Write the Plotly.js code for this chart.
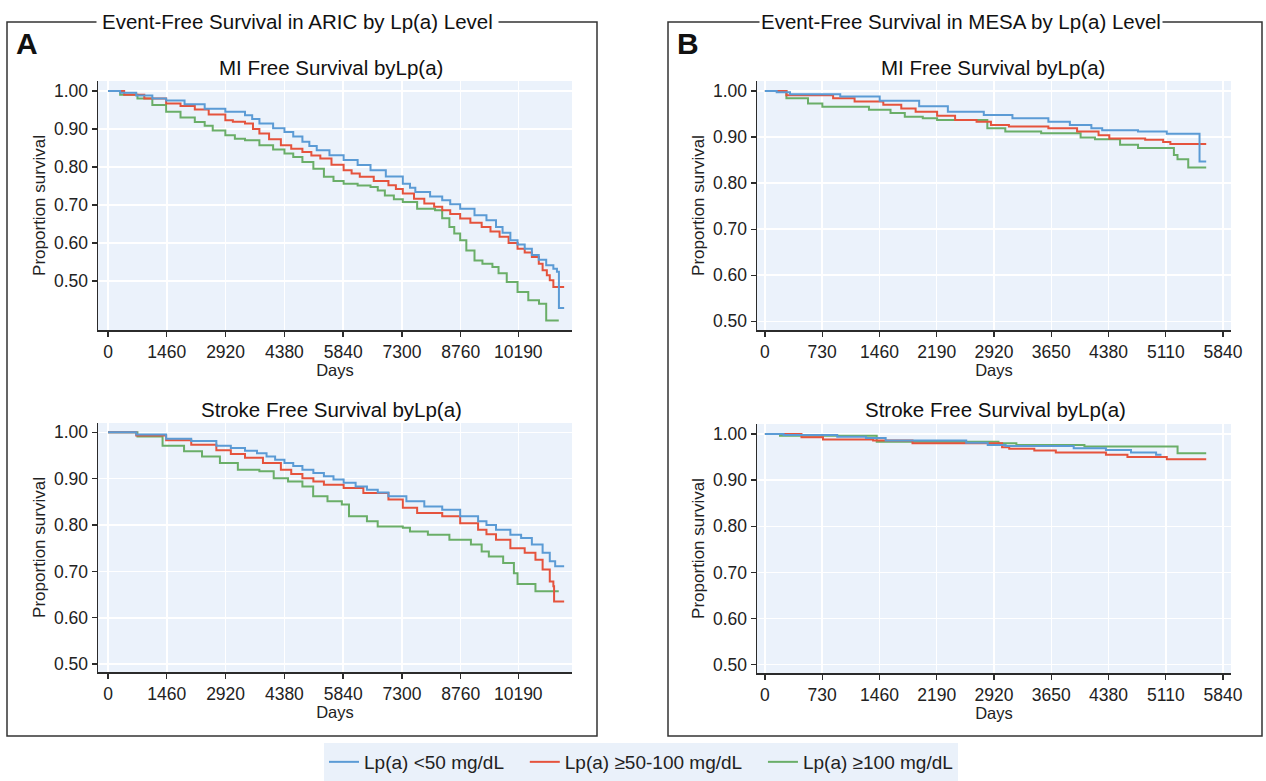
<!DOCTYPE html>
<html>
<head>
<meta charset="utf-8">
<script src="https://cdn.plot.ly/plotly-3.0.1.min.js"></script>
<style>html,body{margin:0;padding:0;background:#fff;}#chart{width:1266px;height:781px;}</style>
</head>
<body>
<div id="chart"></div>
<script>
// ---------- Data ----------
const SERIES_NAMES = ['Lp(a) &lt;50 mg/dL', 'Lp(a) ≥50-100 mg/dL', 'Lp(a) ≥100 mg/dL'];
const SERIES_COLORS = ['#5B9BD5', '#E5533D', '#6AAE68'];

const ARIC_TICKS = [0, 1460, 2920, 4380, 5840, 7300, 8760, 10190];
const MESA_TICKS = [0, 730, 1460, 2190, 2920, 3650, 4380, 5110, 5840];
const Y_TICKS = [0.5, 0.6, 0.7, 0.8, 0.9, 1.0];

// ARIC - MI free survival
const ARIC_MI_LOW_DAYS = [0, 300, 700, 1100, 1443, 1900, 2400, 2913, 3402, 3580, 3760, 4100, 4382, 4600, 4828, 5000, 5184, 5500, 5852, 6200, 6520, 6900, 7322, 7500, 7633, 8000, 8301, 8500, 8747, 9103, 9400, 9637, 9800, 9994, 10172, 10350, 10528, 10700, 10884, 11062, 11151, 11200, 11330];
const ARIC_MI_LOW_SURV = [1.000, 0.995, 0.988, 0.980, 0.975, 0.965, 0.953, 0.945, 0.936, 0.926, 0.914, 0.902, 0.892, 0.880, 0.866, 0.855, 0.844, 0.831, 0.818, 0.805, 0.791, 0.775, 0.756, 0.745, 0.734, 0.722, 0.712, 0.702, 0.690, 0.673, 0.660, 0.642, 0.627, 0.607, 0.596, 0.585, 0.568, 0.556, 0.541, 0.532, 0.524, 0.429, 0.429];
const ARIC_MI_MID_DAYS = [0, 400, 900, 1443, 1800, 2155, 2500, 2913, 3100, 3402, 3600, 3759, 4000, 4293, 4550, 4828, 5050, 5273, 5550, 5852, 6050, 6253, 6600, 6965, 7150, 7322, 7600, 7856, 8100, 8301, 8500, 8747, 9000, 9281, 9500, 9726, 9950, 10172, 10350, 10528, 10700, 10795, 10900, 10973, 11062, 11330];
const ARIC_MI_MID_SURV = [1.000, 0.990, 0.980, 0.967, 0.960, 0.951, 0.938, 0.923, 0.919, 0.914, 0.900, 0.888, 0.873, 0.857, 0.848, 0.839, 0.830, 0.822, 0.806, 0.791, 0.783, 0.774, 0.763, 0.752, 0.742, 0.730, 0.716, 0.704, 0.695, 0.686, 0.676, 0.664, 0.653, 0.642, 0.630, 0.616, 0.600, 0.585, 0.575, 0.563, 0.545, 0.528, 0.515, 0.502, 0.484, 0.484];
const ARIC_MI_HIGH_DAYS = [0, 300, 730, 1100, 1443, 1800, 2155, 2400, 2600, 2913, 3150, 3402, 3759, 4100, 4382, 4600, 4828, 5100, 5362, 5600, 5852, 6200, 6520, 6700, 6876, 7100, 7322, 7678, 8123, 8300, 8479, 8600, 8747, 8900, 9103, 9300, 9548, 9700, 9904, 10172, 10439, 10706, 10884, 11196];
const ARIC_MI_HIGH_SURV = [1.000, 0.990, 0.980, 0.963, 0.945, 0.930, 0.918, 0.908, 0.896, 0.883, 0.874, 0.870, 0.857, 0.846, 0.835, 0.826, 0.813, 0.795, 0.774, 0.763, 0.756, 0.751, 0.747, 0.738, 0.725, 0.715, 0.708, 0.690, 0.686, 0.665, 0.642, 0.625, 0.607, 0.580, 0.554, 0.545, 0.537, 0.520, 0.497, 0.471, 0.449, 0.440, 0.396, 0.396];

// MESA - MI free survival
const MESA_MI_LOW_DAYS = [0, 150, 320, 960, 1463, 1966, 2332, 2790, 3155, 3613, 3887, 4161, 4299, 4756, 5122, 5540, 5625];
const MESA_MI_LOW_SURV = [1.000, 0.997, 0.993, 0.988, 0.979, 0.967, 0.955, 0.948, 0.941, 0.933, 0.926, 0.919, 0.915, 0.912, 0.907, 0.847, 0.847];
const MESA_MI_MID_DAYS = [0, 274, 869, 1143, 1509, 1738, 1921, 2195, 2424, 2698, 2881, 3110, 3613, 3979, 4253, 4390, 4847, 5076, 5168, 5625];
const MESA_MI_MID_SURV = [1.000, 0.991, 0.984, 0.977, 0.970, 0.962, 0.955, 0.946, 0.937, 0.933, 0.926, 0.923, 0.919, 0.912, 0.904, 0.897, 0.894, 0.889, 0.885, 0.885];
const MESA_MI_HIGH_DAYS = [0, 274, 549, 732, 1326, 1601, 1783, 2012, 2195, 2835, 3064, 3521, 4024, 4207, 4527, 4756, 5213, 5259, 5396, 5625];
const MESA_MI_HIGH_SURV = [1.000, 0.984, 0.973, 0.966, 0.959, 0.952, 0.944, 0.941, 0.937, 0.919, 0.912, 0.908, 0.899, 0.895, 0.883, 0.876, 0.861, 0.852, 0.834, 0.834];

// ARIC - Stroke free survival
const ARIC_ST_LOW_DAYS = [0, 700, 1443, 2066, 2690, 3050, 3402, 3700, 3937, 4150, 4382, 4600, 4828, 5100, 5362, 5600, 5852, 6150, 6431, 6700, 6965, 7411, 7856, 8301, 8747, 9192, 9400, 9637, 9994, 10261, 10528, 10795, 10973, 11107, 11330];
const ARIC_ST_LOW_SURV = [1.000, 0.995, 0.986, 0.981, 0.971, 0.966, 0.960, 0.955, 0.948, 0.941, 0.934, 0.927, 0.919, 0.912, 0.905, 0.898, 0.891, 0.883, 0.876, 0.870, 0.862, 0.851, 0.840, 0.833, 0.819, 0.808, 0.800, 0.790, 0.779, 0.772, 0.758, 0.740, 0.722, 0.711, 0.711];
const ARIC_ST_MID_DAYS = [0, 700, 1443, 2066, 2690, 3050, 3402, 3848, 4293, 4550, 4828, 5100, 5362, 5852, 6342, 6965, 7322, 7678, 8301, 8747, 9192, 9400, 9637, 9994, 10350, 10617, 10795, 10973, 11062, 11080, 11330];
const ARIC_ST_MID_SURV = [1.000, 0.993, 0.983, 0.973, 0.961, 0.953, 0.945, 0.934, 0.919, 0.910, 0.901, 0.894, 0.887, 0.880, 0.869, 0.855, 0.837, 0.826, 0.819, 0.804, 0.790, 0.780, 0.768, 0.750, 0.740, 0.725, 0.704, 0.678, 0.668, 0.635, 0.635];
const ARIC_ST_HIGH_DAYS = [0, 730, 1354, 1888, 2334, 2779, 3224, 3759, 4115, 4471, 4828, 5095, 5451, 5807, 5985, 6431, 6698, 7322, 7500, 7945, 8479, 9014, 9281, 9459, 9815, 10082, 10172, 10617, 11196];
const ARIC_ST_HIGH_SURV = [1.000, 0.991, 0.971, 0.959, 0.948, 0.934, 0.919, 0.916, 0.901, 0.894, 0.883, 0.862, 0.851, 0.844, 0.819, 0.808, 0.797, 0.794, 0.786, 0.779, 0.768, 0.758, 0.743, 0.732, 0.718, 0.696, 0.673, 0.657, 0.657];

// MESA - Stroke free survival
const MESA_ST_LOW_DAYS = [0, 237, 922, 1288, 1539, 2566, 2840, 3068, 3936, 4347, 4666, 4986, 5055];
const MESA_ST_LOW_SURV = [1.000, 0.998, 0.994, 0.991, 0.986, 0.981, 0.976, 0.974, 0.969, 0.965, 0.960, 0.955, 0.955];
const MESA_ST_MID_DAYS = [0, 466, 740, 1379, 1881, 3023, 3114, 3434, 3708, 4347, 4621, 5123, 5625];
const MESA_ST_MID_SURV = [1.000, 0.993, 0.988, 0.986, 0.980, 0.971, 0.968, 0.964, 0.960, 0.955, 0.950, 0.945, 0.945];
const MESA_ST_HIGH_DAYS = [0, 192, 1425, 2977, 3205, 4073, 5260, 5625];
const MESA_ST_HIGH_SURV = [1.000, 0.996, 0.983, 0.980, 0.976, 0.973, 0.958, 0.958];

// ---------- Build ----------
const W = 1266, H = 781;
const px = v => v / W;
const py = v => 1 - v / H;
const FONT = "'Liberation Sans', Arial, sans-serif";
const NBSP = '\u00A0\u00A0\u00A0';

const panels = [
  {xa: 'x',  ya: 'y',  sets: [[ARIC_MI_LOW_DAYS, ARIC_MI_LOW_SURV], [ARIC_MI_MID_DAYS, ARIC_MI_MID_SURV], [ARIC_MI_HIGH_DAYS, ARIC_MI_HIGH_SURV]]},
  {xa: 'x2', ya: 'y2', sets: [[MESA_MI_LOW_DAYS, MESA_MI_LOW_SURV], [MESA_MI_MID_DAYS, MESA_MI_MID_SURV], [MESA_MI_HIGH_DAYS, MESA_MI_HIGH_SURV]]},
  {xa: 'x3', ya: 'y3', sets: [[ARIC_ST_LOW_DAYS, ARIC_ST_LOW_SURV], [ARIC_ST_MID_DAYS, ARIC_ST_MID_SURV], [ARIC_ST_HIGH_DAYS, ARIC_ST_HIGH_SURV]]},
  {xa: 'x4', ya: 'y4', sets: [[MESA_ST_LOW_DAYS, MESA_ST_LOW_SURV], [MESA_ST_MID_DAYS, MESA_ST_MID_SURV], [MESA_ST_HIGH_DAYS, MESA_ST_HIGH_SURV]]}
];

const traces = [];
panels.forEach((p, pi) => {
  [2, 1, 0].forEach(si => {
    traces.push({
      type: 'scatter', mode: 'lines',
      x: p.sets[si][0], y: p.sets[si][1],
      xaxis: p.xa, yaxis: p.ya,
      line: {shape: 'hv', color: SERIES_COLORS[si], width: 2},
      name: SERIES_NAMES[si] + (si < 2 ? NBSP : ''), legendgroup: 'g' + si,
      legendrank: si + 1,
      showlegend: pi === 0,
      hoverinfo: 'skip'
    });
  });
});

function xAxis(domain, range, ticks, anchor) {
  return {
    domain: domain, range: range, anchor: anchor,
    tickmode: 'array', tickvals: ticks, ticktext: ticks.map(String),
    showgrid: true, gridcolor: '#FFFFFF', gridwidth: 1.5,
    zeroline: false, showline: true, linecolor: '#2b2b2b', linewidth: 1.5,
    ticks: 'outside', ticklen: 5, tickwidth: 1.3, tickcolor: '#2b2b2b',
    tickfont: {size: 17.5, color: '#222'},
    title: {text: 'Days', font: {size: 16.5, color: '#222'}, standoff: 3},
    fixedrange: true
  };
}
function yAxis(domain, range, anchor) {
  return {
    domain: domain, range: range, anchor: anchor,
    tickmode: 'array', tickvals: Y_TICKS, tickformat: '.2f',
    showgrid: true, gridcolor: '#FFFFFF', gridwidth: 1.5,
    zeroline: false, showline: true, linecolor: '#2b2b2b', linewidth: 1.5,
    ticks: 'outside', ticklen: 5, tickwidth: 1.3, tickcolor: '#2b2b2b',
    tickfont: {size: 17.5, color: '#222'},
    title: {text: 'Proportion survival', font: {size: 17, color: '#222'}, standoff: 4},
    fixedrange: true
  };
}

const XD_A = [px(98), px(572)], XD_B = [px(757), px(1231)];
const layout = {
  width: W, height: H,
  margin: {l: 0, r: 0, t: 0, b: 0},
  paper_bgcolor: '#FFFFFF', plot_bgcolor: '#EBF2FB',
  font: {family: FONT, color: '#222'},
  showlegend: true,
  xaxis:  xAxis(XD_A, [-250, 11525], ARIC_TICKS, 'y'),
  yaxis:  yAxis([py(330), py(81)], [0.371, 1.026], 'x'),
  xaxis2: xAxis(XD_B, [-101, 5941], MESA_TICKS, 'y2'),
  yaxis2: yAxis([py(330), py(81)], [0.481, 1.0217], 'x2'),
  xaxis3: xAxis(XD_A, [-250, 11525], ARIC_TICKS, 'y3'),
  yaxis3: yAxis([py(672), py(423)], [0.483, 1.020], 'x3'),
  xaxis4: xAxis(XD_B, [-101, 5941], MESA_TICKS, 'y4'),
  yaxis4: yAxis([py(673), py(424)], [0.482, 1.0216], 'x4'),
  legend: {
    orientation: 'h', x: px(641), xanchor: 'center', y: 0, yanchor: 'bottom',
    bgcolor: '#EAF1FA', font: {size: 19, color: '#222'}, traceorder: 'normal'
  },
  shapes: [
    {type: 'rect', xref: 'paper', yref: 'paper', x0: px(7), x1: px(597), y0: py(736), y1: py(22), line: {color: '#333', width: 1.5}, layer: 'below'},
    {type: 'rect', xref: 'paper', yref: 'paper', x0: px(668), x1: px(1262), y0: py(736), y1: py(22), line: {color: '#333', width: 1.5}, layer: 'below'}
  ],
  annotations: [
    {text: 'Event-Free Survival in ARIC by Lp(a) Level', xref: 'paper', yref: 'paper', x: px(297), y: py(22), xanchor: 'center', yanchor: 'middle', showarrow: false, bgcolor: '#FFFFFF', borderpad: 5, font: {size: 20.5, color: '#111'}},
    {text: 'Event-Free Survival in MESA by Lp(a) Level', xref: 'paper', yref: 'paper', x: px(961), y: py(22), xanchor: 'center', yanchor: 'middle', showarrow: false, bgcolor: '#FFFFFF', borderpad: 1, font: {size: 20.5, color: '#111'}},
    {text: '<b>A</b>', xref: 'paper', yref: 'paper', x: px(14), y: py(43), xanchor: 'left', yanchor: 'middle', showarrow: false, font: {size: 30, color: '#111'}},
    {text: '<b>B</b>', xref: 'paper', yref: 'paper', x: px(675), y: py(43), xanchor: 'left', yanchor: 'middle', showarrow: false, font: {size: 30, color: '#111'}},
    {text: 'MI Free Survival byLp(a)', xref: 'paper', yref: 'paper', x: px(331), y: py(68), xanchor: 'center', yanchor: 'middle', showarrow: false, font: {size: 20.5, color: '#111'}},
    {text: 'MI Free Survival byLp(a)', xref: 'paper', yref: 'paper', x: px(993), y: py(68), xanchor: 'center', yanchor: 'middle', showarrow: false, font: {size: 20.5, color: '#111'}},
    {text: 'Stroke Free Survival byLp(a)', xref: 'paper', yref: 'paper', x: px(331), y: py(410), xanchor: 'center', yanchor: 'middle', showarrow: false, font: {size: 20.5, color: '#111'}},
    {text: 'Stroke Free Survival byLp(a)', xref: 'paper', yref: 'paper', x: px(995), y: py(410), xanchor: 'center', yanchor: 'middle', showarrow: false, font: {size: 20.5, color: '#111'}}
  ]
};

Plotly.newPlot('chart', traces, layout, {displayModeBar: false, staticPlot: true});
</script>
</body>
</html>
